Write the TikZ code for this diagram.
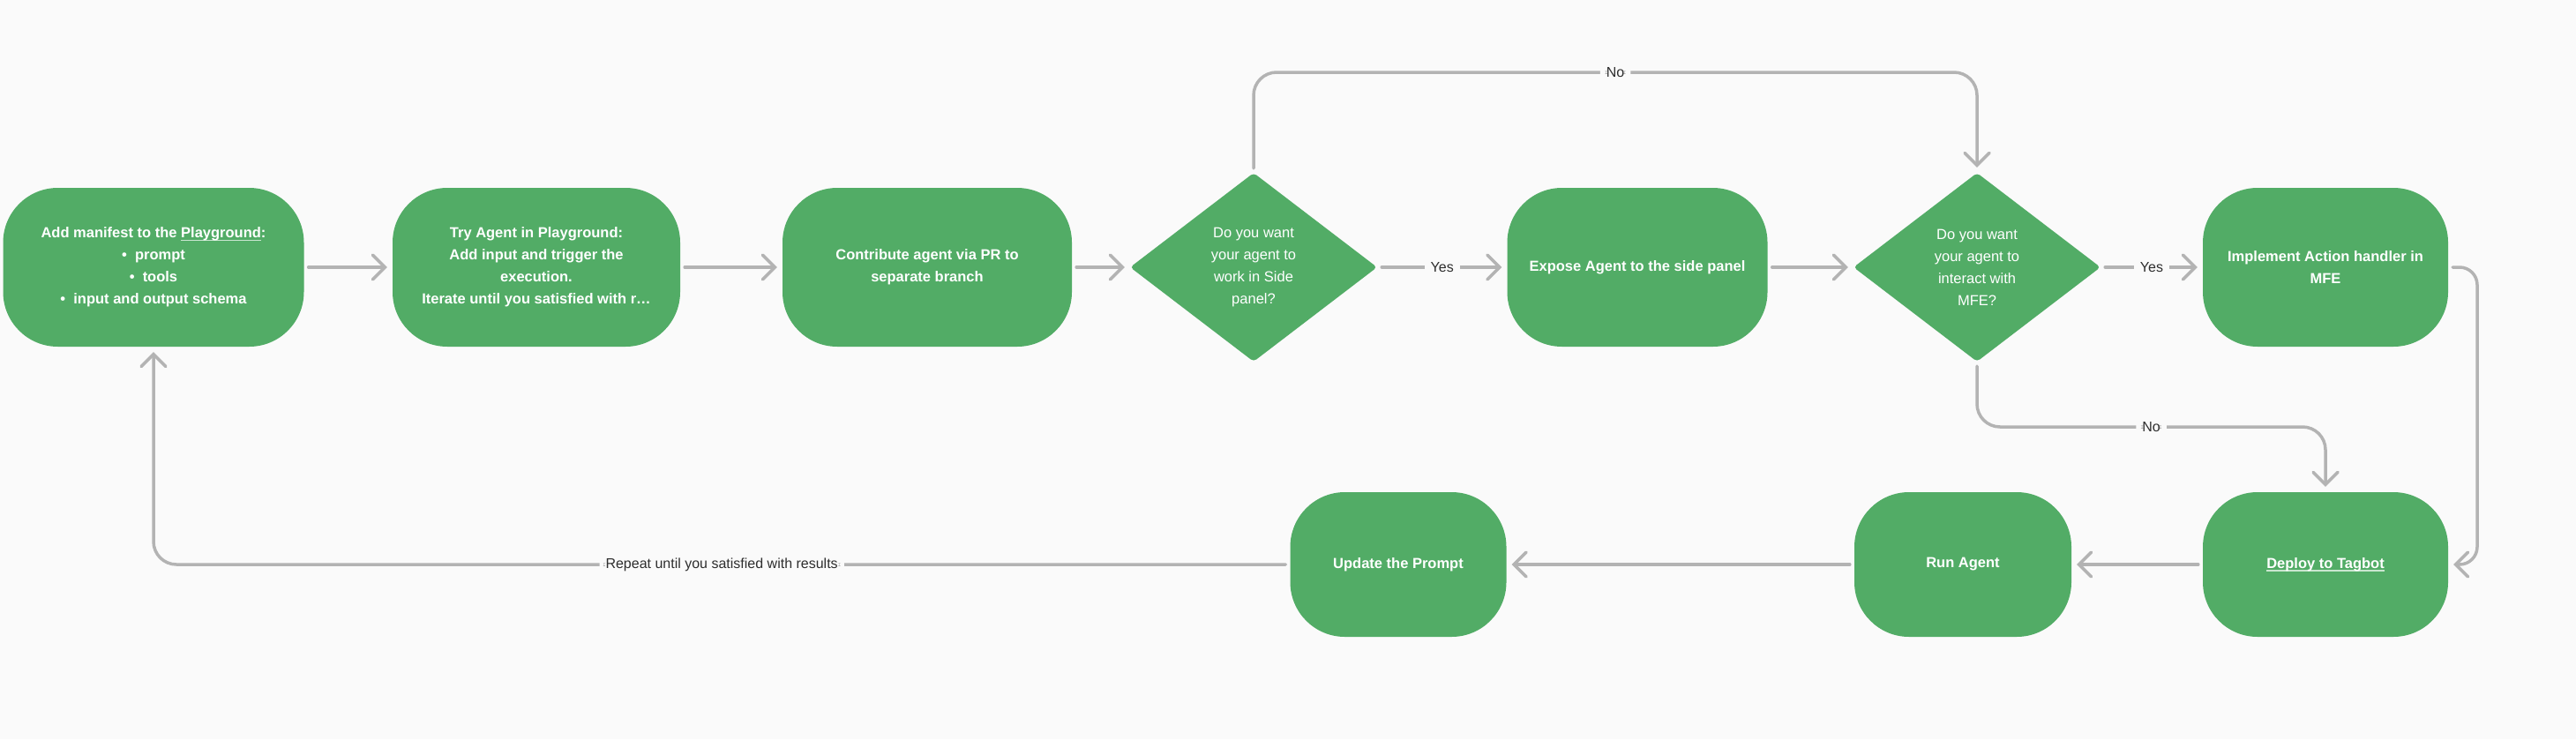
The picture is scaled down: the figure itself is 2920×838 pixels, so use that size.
\documentclass[tikz,border=0pt]{standalone}
\usepackage{fontspec}
\setmainfont{Liberation Sans}
\usetikzlibrary{arrows.meta,shapes.geometric}
\definecolor{bg}{HTML}{FAFAFA}
\definecolor{boxg}{HTML}{52AC66}
\definecolor{conng}{HTML}{B3B3B3}
\definecolor{labc}{HTML}{2E2E2E}
\definecolor{ulc}{HTML}{C9E6CF}
\newcommand\ulx[1]{\setbox0\hbox{#1}\leavevmode\rlap{\color{ulc}\rule[-3.5pt]{\wd0}{1.3pt}}\box0}
\tikzset{
  stepbox/.style={fill=boxg, draw=none, rounded corners=62pt, text=white,
    font=\bfseries\fontsize{16.5pt}{25pt}\selectfont, align=center, inner sep=0pt,
    minimum height=180pt},
  lowbox/.style={stepbox, minimum height=164pt},
  decide/.style={diamond, fill=boxg, draw=none, text=white, rounded corners=4pt,
    font=\fontsize{16.5pt}{25pt}\selectfont, align=center, inner sep=0pt,
    minimum width=280pt, minimum height=214pt},
  conn/.style={draw=conng, line width=3.5pt, line cap=round, line join=round,
    -{Straight Barb[length=14pt,width=28pt,line cap=round]},
    shorten <=5pt, shorten >=6pt},
  lbl/.style={fill=bg, text=labc, font=\fontsize{16pt}{19pt}\selectfont,
    inner xsep=7pt, inner ysep=3pt}
}
\begin{document}
\begin{tikzpicture}[x=1pt,y=-1pt]
\fill[bg] (0,0) rectangle (2920,838);
\useasboundingbox (0,0) rectangle (2920,838);

% top row
\node[stepbox, minimum width=341pt] (b1) at (174,303)
  {Add manifest to the \ulx{Playground}:\\
   \textbullet\ \ prompt\\
   \textbullet\ \ tools\\
   \textbullet\ \ input and output schema};
\node[stepbox, minimum width=326pt] (b2) at (608,303)
  {Try Agent in Playground:\\Add input and trigger the\\execution.\\Iterate until you satisfied with r…};
\node[stepbox, minimum width=328pt] (b3) at (1051,303)
  {Contribute agent via PR to\\separate branch};
\node[decide] (d1) at (1421,303)
  {Do you want\\your agent to\\work in Side\\panel?};
\node[stepbox, minimum width=295pt] (b4) at (1856,303)
  {Expose Agent to the side panel};
\node[decide] (d2) at (2241,303)
  {Do you want\\your agent to\\interact with\\MFE?};
\node[stepbox, minimum width=278pt] (b5) at (2636,303)
  {Implement Action handler in\\MFE};

% bottom row
\node[lowbox, minimum width=278pt] (dep) at (2636,640) {\ulx{Deploy to Tagbot}};
\node[lowbox, minimum width=246pt] (run) at (2225,640) {Run Agent};
\node[lowbox, minimum width=245pt] (upd) at (1585,640) {Update the Prompt};

% routing points
\coordinate (toprow) at (0,82);
\coordinate (midrow) at (0,484);
\coordinate (rcol) at (2808,0);
\coordinate (t1) at (d1.north |- toprow);
\coordinate (t2) at (d2.north |- toprow);
\coordinate (n1) at (d2.south |- midrow);
\coordinate (n2) at (dep.north |- midrow);
\coordinate (r1) at (rcol |- b5.east);
\coordinate (r2) at (rcol |- dep.east);

% connectors
\draw[conn] (b1) -- (b2);
\draw[conn] (b2) -- (b3);
\draw[conn] (b3) -- (d1);
\draw[conn] (d1.east) -- node[lbl]{Yes} (b4.west);
\draw[conn] (b4) -- (d2);
\draw[conn] (d2.east) -- node[lbl]{Yes} (b5.west);
\draw[conn, rounded corners=26pt] (d1.north) -- (t1) -- node[lbl]{No} (t2) -- (d2.north);
\draw[conn, rounded corners=26pt] (d2.south) -- (n1) -- node[lbl]{No} (n2) -- (dep.north);
\draw[conn, rounded corners=20pt] (b5.east) -- (r1) -- (r2) -- (dep.east);
\draw[conn] (dep) -- (run);
\draw[conn] (run) -- (upd);
\draw[conn, rounded corners=26pt] (upd.west) -- node[lbl]{Repeat until you satisfied with results} (b1.south |- upd.west) -- (b1.south);
\end{tikzpicture}
\end{document}
